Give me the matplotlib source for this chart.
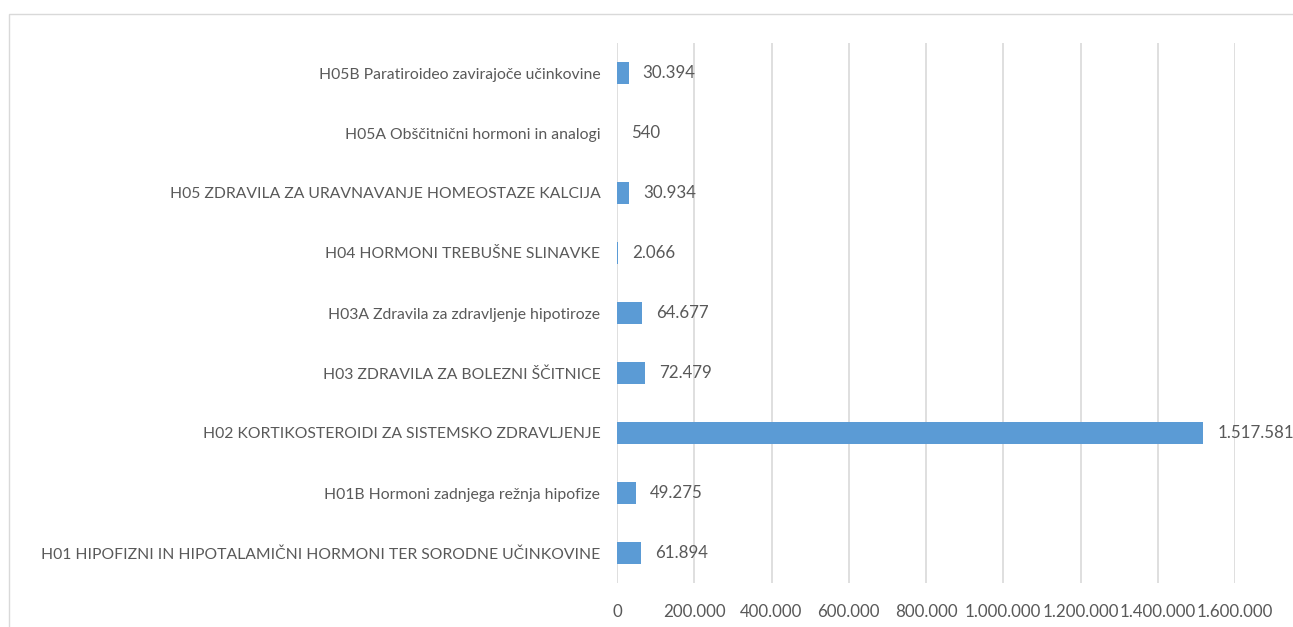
import matplotlib
matplotlib.use("Agg")
import matplotlib.pyplot as plt
from matplotlib.patches import Rectangle

categories = [
    "H01 HIPOFIZNI IN HIPOTALAMIČNI HORMONI TER SORODNE UČINKOVINE",
    "H01B Hormoni zadnjega režnja hipofize",
    "H02 KORTIKOSTEROIDI ZA SISTEMSKO ZDRAVLJENJE",
    "H03 ZDRAVILA ZA BOLEZNI ŠČITNICE",
    "H03A Zdravila za zdravljenje hipotiroze",
    "H04 HORMONI TREBUŠNE SLINAVKE",
    "H05 ZDRAVILA ZA URAVNAVANJE HOMEOSTAZE KALCIJA",
    "H05A Obščitnični hormoni in analogi",
    "H05B Paratiroideo zavirajoče učinkovine",
]
values = [61894, 49275, 1517581, 72479, 64677, 2066, 30934, 540, 30394]
xticks = [0, 200000, 400000, 600000, 800000, 1000000, 1200000, 1400000, 1600000]

BAR = "#5B9BD5"
TXT = "#595959"
GRID = "#D9D9D9"
FONT = ["Lato", "DejaVu Sans"]
W, H = 1293, 627


def fmt(v):
    return f"{v:,}".replace(",", ".")


plt.rcParams["font.family"] = FONT
fig = plt.figure(figsize=(W / 100, H / 100), dpi=100)
fig.patches.append(Rectangle((8.5 / W, -0.1), 1.2, 1.1 - 13.5 / H, transform=fig.transFigure,
                             fill=False, ec=GRID, lw=1.0))
ax = fig.add_axes([617 / W, 1 - 583 / H, (1235 - 617) / W, (583 - 43) / H])

y = range(len(categories))
ax.barh(y, values, height=0.36, color=BAR, zorder=3)
for yi, v in zip(y, values):
    ax.annotate(fmt(v), (v, yi), xytext=(14, 0), textcoords="offset pixels",
                ha="left", va="center", fontsize=12.2, color=TXT)

ax.set_xlim(0, 1600000)
ax.set_ylim(-0.5, len(categories) - 0.5)
ax.set_xticks(xticks)
ax.set_xticklabels([fmt(t) for t in xticks], fontsize=12.2)
ax.set_yticks(list(y))
ax.set_yticklabels(categories, fontsize=11.3)
ax.tick_params(axis="both", length=0, labelcolor=TXT)
ax.tick_params(axis="y", pad=12)
ax.tick_params(axis="x", pad=15)
ax.grid(axis="x", color=GRID, lw=1.2, zorder=0)
for s in ax.spines.values():
    s.set_visible(False)

fig.savefig("out.png", dpi=100)
